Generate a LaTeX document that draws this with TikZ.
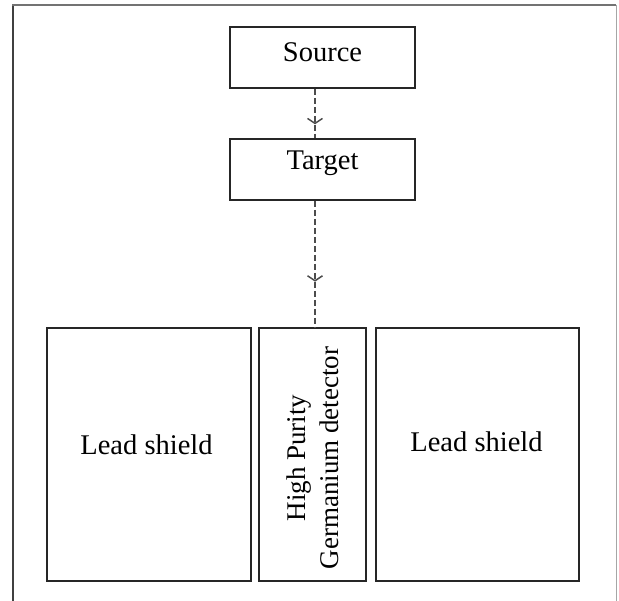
\documentclass[tikz,border=0pt]{standalone}
\usepackage{fontspec}
\setmainfont{Liberation Serif}
\usetikzlibrary{arrows.meta,decorations.markings}
\begin{document}
\begin{tikzpicture}[x=1pt,y=-1pt,
  box/.style={draw=black!85,line width=1.8pt,minimum width=#1,inner sep=0pt},
  txt/.style={font=\fontsize{28.5}{33}\selectfont,text=black,inner sep=0pt},
  beam/.style={draw=black!70,line width=2pt,dash pattern=on 6pt off 3pt,
    postaction={decorate},
    decoration={markings,mark=at position #1 with {\arrow[line width=1.5pt,solid]{Straight Barb[length=5pt,width=15pt]}}}}
]
\useasboundingbox (0,0) rectangle (619,601);
% outer frame
\draw[draw=black!75,line width=2pt] (13,601) -- (13,5);
\draw[draw=black!55,line width=1.5pt] (12,5) -- (616,5);
\draw[draw=black!35,line width=1pt] (616,5) -- (616,601);
% boxes
\node[box=185pt,minimum height=61pt] (src) at (322.5,57.5) {};
\node[box=185pt,minimum height=61pt] (tgt) at (322.5,169.5) {};
\node[box=204pt,minimum height=253pt] (lsl) at (149,454.5) {};
\node[box=107pt,minimum height=253pt] (det) at (312.5,454.5) {};
\node[box=203pt,minimum height=253pt] (lsr) at (477.5,454.5) {};
% texts
\node[txt,anchor=base] (srct) at (322.5,62) {Source};
\node[txt,anchor=base] (tgtt) at (322.5,170) {Target};
\node[txt,anchor=base] (lslt) at (146.5,455) {Lead shield};
\node[txt,anchor=base] (lsrt) at (476.5,452) {Lead shield};
\node[txt,font=\fontsize{27}{33}\selectfont,rotate=90,align=center] (dett) at (313,458) {High Purity\\Germanium detector};
% connectors
\draw[beam=0.72] ([xshift=-7.5pt]src.south) -- ([xshift=-7.5pt]tgt.north);
\draw[beam=0.64] ([xshift=-7.5pt]tgt.south) -- ([xshift=2.5pt]det.north);
\end{tikzpicture}
\end{document}
